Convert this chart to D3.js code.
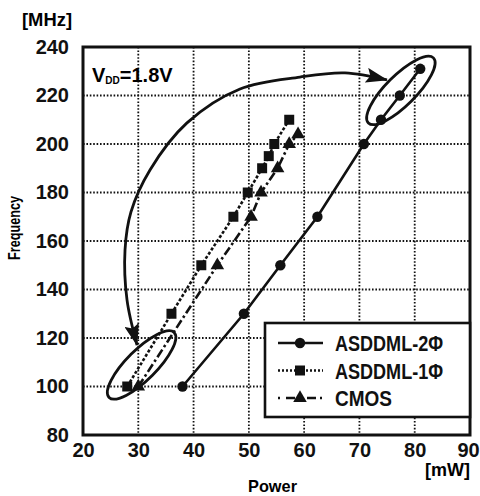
<!DOCTYPE html>
<html>
<head>
<meta charset="utf-8">
<script src="https://cdn.jsdelivr.net/npm/d3@7"></script>
<style>
  body { margin: 0; background: #fff; }
  svg { display: block; font-family: "Liberation Sans", Arial, sans-serif; }
  .tick text { font-size: 20px; font-weight: bold; fill: #111; }
</style>
</head>
<body>
<script>
var W = 480, H = 496;

// axis ticks
var xTicks = [20, 30, 40, 50, 60, 70, 80, 90];
var yTicks = [80, 100, 120, 140, 160, 180, 200, 220, 240];

// series (power mW, frequency MHz)
var asd2Power = [38, 49.1, 55.7, 62.4, 70.8, 73.9, 77.3, 81];
var asd2Freq  = [100, 130, 150, 170, 200, 210, 220, 231];

var asd1Power = [28, 36, 41.4, 47.2, 49.8, 52.4, 53.6, 54.6, 57.3];
var asd1Freq  = [100, 130, 150, 170, 180, 190, 195, 200, 210];

var cmosPower = [30, 44.3, 50.4, 52.2, 55.2, 57.3, 58.9];
var cmosFreq  = [100, 150, 170, 180, 190, 200, 204];

var seriesNames = ["ASDDML-2\u03A6", "ASDDML-1\u03A6", "CMOS"];

// annotation: ellipse centres and curved arrow (data units)
var ellipseCenters = [[30.6, 108.9], [77.5, 222.1]];
var arrowPts = [[29.77, 117.1], [27.96, 135.7], [27.6, 156.3], [28.68, 172.0], [32.12, 189.3],
                [38.81, 208.7], [48.4, 222.7], [59.25, 227.6], [67.39, 229.3], [74.98, 226.4]];

var margin = {top: 47, right: 10, bottom: 61, left: 83},
    width = W - margin.left - margin.right,
    height = H - margin.top - margin.bottom;

var x = d3.scaleLinear().domain([20, 90]).range([0, width]);
var y = d3.scaleLinear().domain([80, 240]).range([height, 0]);

var svg = d3.select("body").append("svg")
    .attr("width", W)
    .attr("height", H);

var defs = svg.append("defs");
defs.append("marker")
    .attr("id", "head")
    .attr("markerUnits", "userSpaceOnUse")
    .attr("viewBox", "0 0 22 15")
    .attr("refX", 21).attr("refY", 7.5)
    .attr("markerWidth", 22).attr("markerHeight", 15)
    .attr("orient", "auto-start-reverse")
    .append("path")
    .attr("d", "M0,0 L22,7.5 L0,15 L4,7.5 Z")
    .attr("fill", "#111");

var g = svg.append("g")
    .attr("transform", "translate(" + margin.left + "," + margin.top + ")");

// dotted grid
g.append("g").selectAll("line")
    .data(xTicks.slice(1, -1))
    .join("line")
    .attr("x1", d => x(d)).attr("x2", d => x(d))
    .attr("y1", 0).attr("y2", height)
    .attr("stroke", "#111").attr("stroke-width", 1.8)
    .attr("stroke-dasharray", "1.6,1.8");
g.append("g").selectAll("line")
    .data(yTicks.slice(1, -1))
    .join("line")
    .attr("y1", d => y(d)).attr("y2", d => y(d))
    .attr("x1", 0).attr("x2", width)
    .attr("stroke", "#111").attr("stroke-width", 1.8)
    .attr("stroke-dasharray", "1.6,1.8");

// axes
var xAxis = g.append("g")
    .attr("transform", "translate(0," + height + ")")
    .call(d3.axisBottom(x).tickValues(xTicks).tickSize(0).tickPadding(8).tickFormat(d3.format("d")));
xAxis.select(".domain").remove();
xAxis.selectAll(".tick text").filter(d => d === 90).attr("dx", -2);
var yAxis = g.append("g")
    .call(d3.axisLeft(y).tickValues(yTicks).tickSize(0).tickPadding(14).tickFormat(d3.format("d")));
yAxis.select(".domain").remove();

// series
var series = [
  {px: asd2Power, fy: asd2Freq, dash: null, shape: "circle"},
  {px: asd1Power, fy: asd1Freq, dash: "3,2", shape: "square"},
  {px: cmosPower, fy: cmosFreq, dash: "9,3,2.5,3", shape: "triangle"}
];
var line = d3.line().x(d => x(d[0])).y(d => y(d[1]));
var symbols = {
  circle: d3.symbol().type(d3.symbolCircle).size(85),
  square: d3.symbol().type(d3.symbolSquare).size(100),
  triangle: d3.symbol().type(d3.symbolTriangle).size(80)
};

series.forEach(function(s) {
  var pts = s.px.map((p, i) => [p, s.fy[i]]);
  g.append("path")
      .datum(pts)
      .attr("d", line)
      .attr("fill", "none")
      .attr("stroke", "#111")
      .attr("stroke-width", 2.6)
      .attr("stroke-dasharray", s.dash);
  g.append("g").selectAll("path")
      .data(pts)
      .join("path")
      .attr("transform", d => "translate(" + x(d[0]) + "," + y(d[1]) + ")")
      .attr("d", symbols[s.shape])
      .attr("fill", "#111");
});

// ellipses and arrow
g.append("g").selectAll("ellipse")
    .data(ellipseCenters)
    .join("ellipse")
    .attr("transform", d => "translate(" + x(d[0]) + "," + y(d[1]) + ") rotate(-45)")
    .attr("rx", 46).attr("ry", 15)
    .attr("fill", "none")
    .attr("stroke", "#111")
    .attr("stroke-width", 2.8);

g.append("path")
    .datum(arrowPts)
    .attr("d", d3.line().x(d => x(d[0])).y(d => y(d[1])).curve(d3.curveCatmullRom))
    .attr("fill", "none")
    .attr("stroke", "#111")
    .attr("stroke-width", 2.8)
    .attr("marker-start", "url(#head)")
    .attr("marker-end", "url(#head)");

// frame
g.append("rect")
    .attr("width", width).attr("height", height)
    .attr("fill", "none")
    .attr("stroke", "#111")
    .attr("stroke-width", 3);

// legend
var lg = g.append("g").attr("transform", "translate(" + (265 - margin.left) + "," + (323 - margin.top) + ")");
lg.append("rect")
    .attr("width", 205).attr("height", 94)
    .attr("fill", "#fff")
    .attr("stroke", "#111").attr("stroke-width", 2.6);
var textLen = [108, 108, 57];
series.forEach(function(s, i) {
  var cy = 20 + i * 27.5;
  lg.append("line")
      .attr("x1", 13).attr("x2", 58)
      .attr("y1", cy).attr("y2", cy)
      .attr("stroke", "#111").attr("stroke-width", 2.6)
      .attr("stroke-dasharray", i === 0 ? null : (i === 1 ? "2,2" : "2,6,9,4"));
  lg.append("path")
      .attr("transform", "translate(35," + cy + ")")
      .attr("d", symbols[s.shape])
      .attr("fill", "#111");
  lg.append("text")
      .attr("x", 70).attr("y", cy + 8)
      .attr("font-size", 22).attr("font-weight", "bold")
      .attr("textLength", textLen[i]).attr("lengthAdjust", "spacingAndGlyphs")
      .attr("fill", "#111")
      .text(seriesNames[i]);
});

// labels
svg.append("text")
    .attr("x", 22).attr("y", 26)
    .attr("font-size", 18).attr("font-weight", "bold")
    .attr("textLength", 50).attr("lengthAdjust", "spacingAndGlyphs")
    .text("[MHz]");
svg.append("text")
    .attr("x", 425).attr("y", 476)
    .attr("font-size", 18).attr("font-weight", "bold")
    .attr("textLength", 45).attr("lengthAdjust", "spacingAndGlyphs")
    .text("[mW]");
svg.append("text")
    .attr("x", 248).attr("y", 492)
    .attr("font-size", 17).attr("font-weight", "bold")
    .attr("textLength", 49).attr("lengthAdjust", "spacingAndGlyphs")
    .text("Power");
svg.append("text")
    .attr("transform", "translate(20,260) rotate(-90)")
    .attr("font-size", 17).attr("font-weight", "bold")
    .attr("textLength", 64).attr("lengthAdjust", "spacingAndGlyphs")
    .text("Frequency");

var vdd = svg.append("text")
    .attr("x", 92).attr("y", 82)
    .attr("font-size", 20).attr("font-weight", "bold");
vdd.append("tspan").text("V");
vdd.append("tspan").attr("font-size", 10).attr("dy", 2).text("DD");
vdd.append("tspan").attr("dy", -2).text("=1.8V");
</script>
</body>
</html>
